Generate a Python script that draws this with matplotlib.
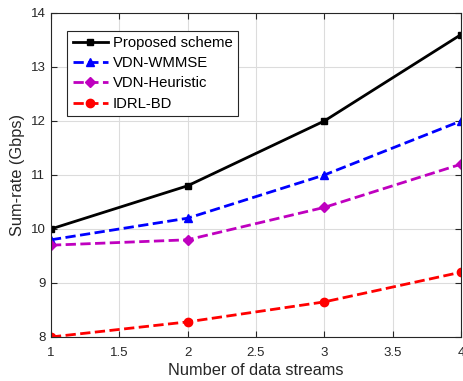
import matplotlib
matplotlib.use("Agg")
import matplotlib.pyplot as plt

streams = [1, 2, 3, 4]
proposed = [10.0, 10.8, 12.0, 13.6]
vdn_wmmse = [9.8, 10.2, 11.0, 12.0]
vdn_heuristic = [9.7, 9.8, 10.4, 11.2]
idrl_bd = [8.0, 8.28, 8.65, 9.2]

x_ticks = [1, 1.5, 2, 2.5, 3, 3.5, 4]
x_ticklabels = ["1", "1.5", "2", "2.5", "3", "3.5", "4"]
y_ticks = [8, 9, 10, 11, 12, 13, 14]

plt.rcParams["font.family"] = ["Liberation Sans", "DejaVu Sans"]
dark = "#262626"

fig = plt.figure(figsize=(4.63, 3.81), dpi=100)
ax = fig.add_axes([0.110, 0.1155, 0.8857, 0.8504])

ax.plot(streams, proposed, "-", color="black", lw=2, marker="s", ms=5,
        label="Proposed scheme")
ax.plot(streams, vdn_wmmse, "--", color="#0000ff", lw=2, marker="^", ms=6,
        label="VDN-WMMSE")
ax.plot(streams, vdn_heuristic, "--", color="#bf00bf", lw=2, marker="D", ms=5,
        label="VDN-Heuristic")
ax.plot(streams, idrl_bd, "--", color="#ff0000", lw=2, marker="o", ms=6,
        label="IDRL-BD")

ax.set_xlim(1, 4)
ax.set_ylim(8, 14)
ax.set_xticks(x_ticks)
ax.set_xticklabels(x_ticklabels)
ax.set_yticks(y_ticks)
ax.tick_params(direction="in", labelsize=9.5, colors=dark, length=4,
               top=True, right=True)
ax.tick_params(axis="x", pad=7)
ax.tick_params(axis="y", pad=4)
ax.grid(True, color="#dcdcdc", lw=0.8)
ax.set_axisbelow(True)
for s in ax.spines.values():
    s.set_color(dark)
    s.set_linewidth(0.8)
    s.set_zorder(5)

ax.set_xlabel("Number of data streams", fontsize=11.8, color=dark, labelpad=3)
ax.set_ylabel("Sum-rate (Gbps)", fontsize=11.8, color=dark, labelpad=4)

leg = ax.legend(loc="upper left", bbox_to_anchor=(0.04, 0.945), fontsize=10.7,
                fancybox=False, framealpha=1, edgecolor=dark,
                handlelength=2.4, handletextpad=0.3, borderpad=0.35,
                labelspacing=0.42, borderaxespad=0)
leg.get_frame().set_linewidth(0.8)

fig.savefig("out.png", dpi=100)
